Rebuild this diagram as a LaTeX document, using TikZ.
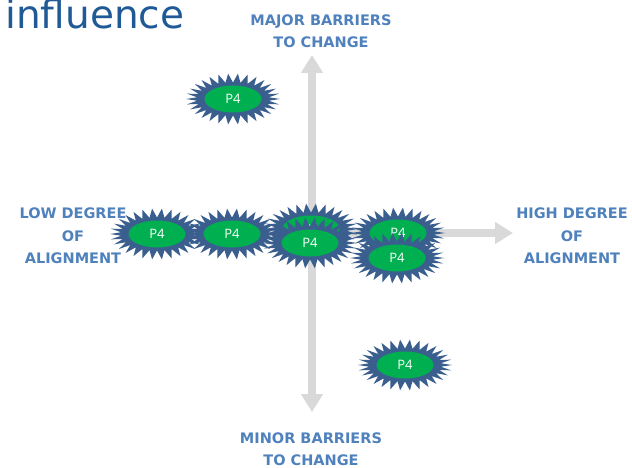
\documentclass[tikz,border=0pt]{standalone}
\usepackage{fontspec}
\setmainfont{Open Sans}
\newfontfamily\titlefont{DejaVu Sans}
\newfontfamily\labelfont{DejaVu Sans}
\usetikzlibrary{arrows.meta,shapes.geometric}
\definecolor{labelblue}{HTML}{4F81BD}
\definecolor{titleblue}{HTML}{1F5A96}
\definecolor{starblue}{HTML}{3A5F8F}
\definecolor{stargreen}{HTML}{00B050}
\definecolor{axisgray}{HTML}{D9D9D9}
\tikzset{
  axisline/.style={draw=axisgray, line width=8pt,
    {Triangle[length=18pt,width=21pt]}-{Triangle[length=18pt,width=21pt]}},
  axislabel/.style={text=labelblue, font=\labelfont\bfseries\fontsize{14.5}{22.5}\selectfont, align=center},
  core/.style={ellipse, fill=stargreen, minimum width=57, minimum height=27, inner sep=0pt,
    text=white, font=\fontsize{13}{15}\selectfont},
}
\newcommand{\pstar}[3]{%
  \fill[starblue] plot[samples=61,domain=0:360,variable=\t]
    ({#2+(41.5+5.5*cos(30*\t))*cos(\t)},{#3+(21+4.5*cos(30*\t))*sin(\t)}) -- cycle;
  \node[core] (#1) at (#2,#3) {P4};
}
\begin{document}
\begin{tikzpicture}[x=1pt,y=-1pt]
\useasboundingbox[fill=white] (0,0) rectangle (632,468);
\node[anchor=base west, inner sep=0pt, text=titleblue, font=\titlefont\fontsize{39}{42}\selectfont] (title) at (5,29) {influence};
% axes
\coordinate (vtop) at (312,55);
\coordinate (vbot) at (312,412);
\coordinate (hleft) at (118,233);
\coordinate (hright) at (513,233);
\draw[axisline] (vbot) -- (vtop);
\draw[axisline] (hleft) -- (hright);
% labels
\node[axislabel] (major) at (321,31) {MAJOR BARRIERS\\TO CHANGE};
\node[axislabel] (minor) at (311,449) {MINOR BARRIERS\\TO CHANGE};
\node[axislabel] (low) at (73,236) {LOW DEGREE\\OF\\ALIGNMENT};
\node[axislabel] (high) at (572,236) {HIGH DEGREE\\OF\\ALIGNMENT};
% stars
\pstar{s1}{233}{99}
\pstar{s2}{157}{234}
\pstar{s3}{232}{234}
\pstar{s4}{311}{229}
\pstar{s5}{310}{243}
\pstar{s6}{398}{233}
\pstar{s7}{397}{258}
\pstar{s8}{405}{365}
\end{tikzpicture}
\end{document}
